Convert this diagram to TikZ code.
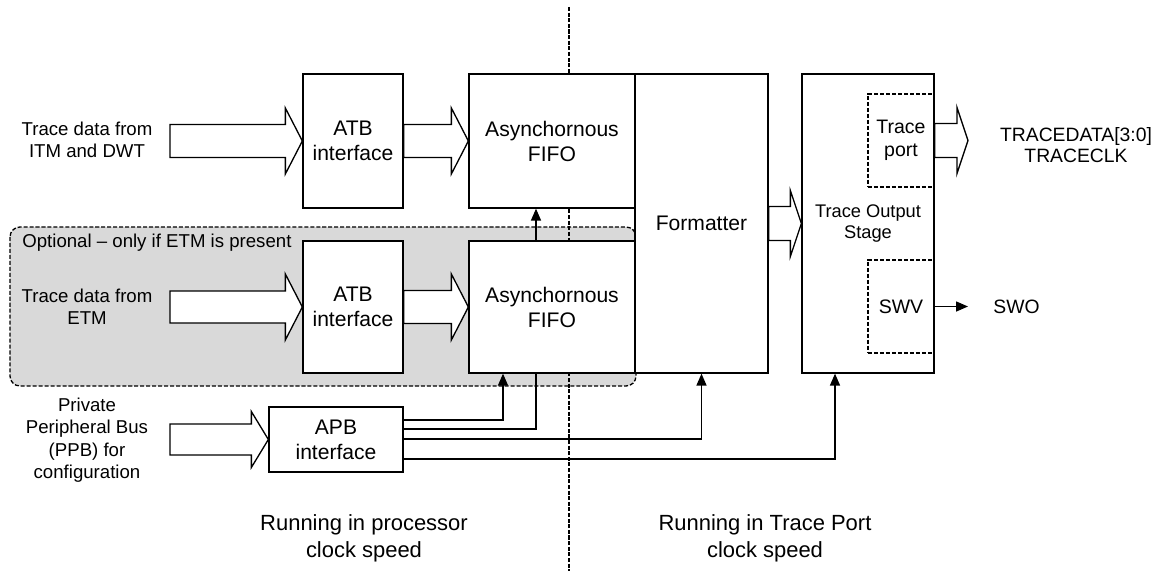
\documentclass[tikz,border=0pt]{standalone}
\usepackage{fontspec}
\setmainfont{Liberation Sans}
\usetikzlibrary{calc,arrows.meta}

\tikzset{
  blk/.style={draw, fill=white, line width=0.75pt, align=center, inner sep=0pt,
    font=\fontsize{12}{14.2}\selectfont},
  subblk/.style={draw, dash pattern=on 2.3pt off 1.1pt, line width=0.75pt, align=center,
    inner sep=0pt, minimum width=1.32cm, minimum height=1.86cm, font=\fontsize{11.1}{13}\selectfont},
  lbl/.style={align=center, inner sep=0pt, font=\fontsize{10.6}{12.8}\selectfont},
  biglbl/.style={align=center, inner sep=0pt, font=\fontsize{12.5}{15.4}\selectfont},
  optregion/.style={draw, fill=gray!30, dash pattern=on 2.3pt off 1.1pt, line width=0.75pt,
    rounded corners=0.2cm},
  divider/.style={line width=0.75pt, dash pattern=on 2.3pt off 0.9pt},
  fatshape/.style={draw, fill=white, line width=0.75pt, line join=miter},
  wire/.style={line width=0.75pt},
  sig/.style={wire, -{Triangle[length=6.8pt,width=5.7pt]}},
}

% fat arrow: #1 from, #2 tip, #3 head length, #4 half shaft, #5 half head
\newcommand{\fatarrow}[5]{%
  \draw[fatshape] ($(#1 |- #2)+(0,#4)$) -- ($(#2)+(-#3,#4)$) -- ($(#2)+(-#3,#5)$) -- (#2)
    -- ($(#2)+(-#3,-#5)$) -- ($(#2)+(-#3,-#4)$) -- ($(#1 |- #2)+(0,-#4)$) -- cycle;}

\begin{document}
\begin{tikzpicture}[x=0.02cm, y=-0.02cm]
  \useasboundingbox (0,0) rectangle (1166,571);
  % Optional ETM region
  \draw[optregion] (10,227) rectangle (636,386);
  \node[lbl, anchor=west] (lblOpt) at (22,243) {Optional \textendash{} only if ETM is present};
  % Clock domain divider
  \draw[divider] (569,7) -- (569,571);
  % Processor clock blocks
  \node[blk, minimum width=2cm, minimum height=2.68cm] (atbA) at (353,141) {ATB\\interface};
  \node[blk, minimum width=3.32cm, minimum height=2.68cm] (fifoA) at (552,141) {Asynchornous\\FIFO};
  \node[blk, minimum width=2cm, minimum height=2.64cm] (atbB) at (353,307) {ATB\\interface};
  \node[blk, minimum width=3.32cm, minimum height=2.64cm] (fifoB) at (552,307) {Asynchornous\\FIFO};
  \node[blk, minimum width=2.68cm, minimum height=1.3cm] (apb) at (336,439.5) {APB\\interface};
  % Trace port clock blocks
  \node[blk, minimum width=2.66cm, minimum height=5.98cm] (fmt) at (701.5,223.5) {Formatter};
  \node[blk, minimum width=2.64cm, minimum height=5.98cm,
    font=\fontsize{10.4}{12.5}\selectfont] (tos) at (868,223.5) {Trace Output\\Stage};
  \node[subblk] (tport) at (901,140.5) {Trace\\port};
  \node[subblk] (swv) at (901,306.5) {SWV};
  % Left-hand inputs
  \node[lbl] (lblITM) at (87,140) {Trace data from\\ITM and DWT};
  \node[lbl] (lblETM) at (87,307) {Trace data from\\ETM};
  \node[lbl] (lblPPB) at (87,440) {Private\\Peripheral Bus\\(PPB) for\\configuration};
  \coordinate (srcITM) at (170,141);
  \coordinate (srcETM) at (170,307);
  \coordinate (srcPPB) at (170,439.5);
  % Right-hand outputs
  \node[lbl, font=\fontsize{11}{11.5}\selectfont] (lblTrace) at (1076,145) {TRACEDATA[3:0]\\TRACECLK};
  \node[lbl, anchor=west, font=\fontsize{11}{13}\selectfont] (lblSWO) at (993,307) {SWO};
  \coordinate (tportTip) at (968,140.5);
  \coordinate (swoTip) at (968,306.5);
  % Bus arrows
  \fatarrow{srcITM}{atbA.west}{17}{16.5}{33}
  \fatarrow{atbA.east}{fifoA.west}{17}{16.5}{33}
  \fatarrow{srcETM}{atbB.west}{17}{16}{33}
  \fatarrow{atbB.east}{fifoB.west}{17}{16.5}{33}
  \fatarrow{srcPPB}{apb.west}{17}{15.5}{28}
  \fatarrow{fmt.east}{tos.west}{11}{17}{33}
  \fatarrow{tport.east}{tportTip}{11}{17}{33}
  % Signal lines
  \draw[sig] (swv.east) -- (swoTip);
  \draw[sig] ($(fifoB.north)+(-16,0)$) -- ($(fifoA.south)+(-16,0)$);
  \draw[sig] ($(apb.east)+(0,-19.5)$) -| ($(fifoB.south)+(-49,0)$);
  \draw[wire] ($(apb.east)+(0,-10.5)$) -| ($(fifoB.south)+(-16,0)$);
  \draw[sig] ($(apb.east)+(0,-0.5)$) -| (fmt.south);
  \draw[sig] ($(apb.east)+(0,19.5)$) -| ($(tos.south)+(-33,0)$);
  % Clock domain captions
  \node[biglbl] (lblProc) at (364,538) {Running in processor\\clock speed};
  \node[biglbl] (lblTPC) at (765,538) {Running in Trace Port\\clock speed};
\end{tikzpicture}
\end{document}
